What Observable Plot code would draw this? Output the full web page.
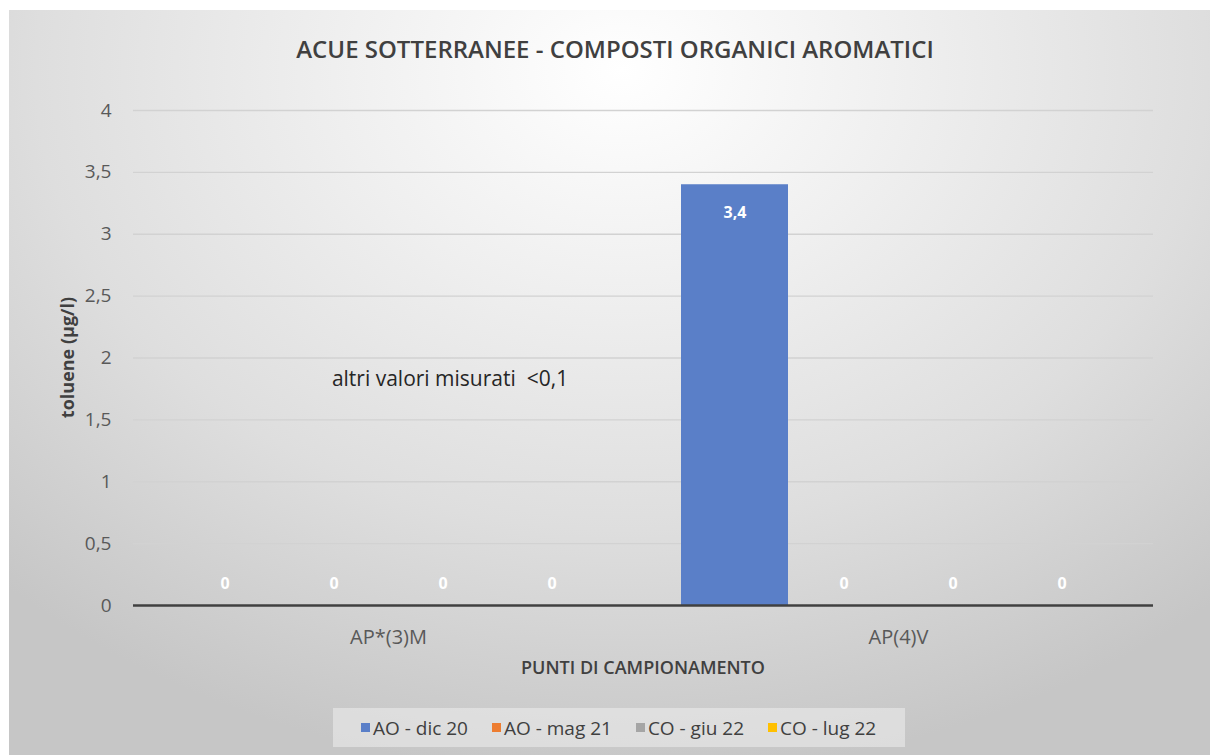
<!DOCTYPE html>
<html>
<head>
<meta charset="utf-8">
<script src="https://cdn.jsdelivr.net/npm/d3@7"></script>
<script src="https://cdn.jsdelivr.net/npm/@observablehq/plot@0.6"></script>
<style>
  html, body { margin: 0; padding: 0; background: #ffffff; width: 1210px; height: 755px; overflow: hidden; }
  #chart {
    position: absolute; left: 9px; top: 10px; width: 1201px; height: 745px;
    background: radial-gradient(ellipse 75% 95% at 51% 8%, #ffffff 0%, #f0f0f0 30%, #dedede 65%, #c6c6c6 100%);
  }
  #title {
    position: absolute; left: -9px; top: 22px; width: 1230px; text-align: center;
    font-family: "Open Sans", "Noto Sans", sans-serif; font-size: 24px; font-weight: 600; color: #404040;
  }
  #plot { position: absolute; left: -9px; top: 80px; }
  #legend {
    position: absolute; left: 324px; top: 698px; width: 572px; height: 39px;
    background: rgba(235,235,235,0.6); box-sizing: border-box; padding-left: 28px;
    display: flex; align-items: center; justify-content: flex-start; gap: 24px;
    font-family: "Open Sans", "Noto Sans", sans-serif; font-size: 19px; color: #404040;
  }
  .item { display: flex; align-items: center; }
  .sw { width: 9px; height: 9px; margin-right: 3px; }
</style>
</head>
<body>
<div id="chart">
  <div id="title"></div>
  <div id="plot"></div>
  <div id="legend"></div>
</div>
<script>
const title = "ACUE SOTTERRANEE - COMPOSTI ORGANICI AROMATICI";
const sites = ["AP*(3)M", "AP(4)V"];
const series = ["AO - dic 20", "AO - mag 21", "CO - giu 22", "CO - lug 22"];
const colors = ["#5a7fc8", "#ED7D31", "#A5A5A5", "#FFC000"];
const valuesAP3M = [0, 0, 0, 0];
const valuesAP4V = [3.4, 0, 0, 0];
const yTicks = [0, 0.5, 1, 1.5, 2, 2.5, 3, 3.5, 4];
const yLabel = "toluene (µg/l)";
const xLabel = "PUNTI DI CAMPIONAMENTO";
const note = "altri valori misurati  <0,1";
const noteSite = "AP*(3)M";
const noteSeries = "CO - giu 22";
const noteValue = 1.83;

const data = [];
series.forEach((s, i) => data.push({site: sites[0], series: s, value: valuesAP3M[i]}));
series.forEach((s, i) => data.push({site: sites[1], series: s, value: valuesAP4V[i]}));

const fmt = v => String(v).replace(".", ",");

document.getElementById("title").textContent = title;

const W = 1210, H = 610, ML = 133, MR = 57, MT = 20, MB = 95;

const chart = Plot.plot({
  width: W,
  height: H,
  marginLeft: ML,
  marginRight: MR,
  marginTop: MT,
  marginBottom: MB,
  style: {background: "transparent", fontFamily: "'Open Sans', 'Noto Sans', sans-serif", overflow: "visible"},
  fx: {domain: sites, padding: 0, label: null},
  x: {domain: series, paddingInner: 0.02, paddingOuter: 0.33, axis: null},
  y: {domain: [0, 4], label: null},
  color: {domain: series, range: colors},
  marks: [
    Plot.ruleY(yTicks.filter(d => d > 0), {stroke: "#d2d2d2", strokeWidth: 1.3}),
    Plot.barY(data, {fx: "site", x: "series", y: "value", fill: "series"}),
    Plot.ruleY([0], {stroke: "#404040", strokeWidth: 2.5}),
    Plot.text(data.filter(d => d.value > 0), {
      fx: "site", x: "series", y: "value",
      text: d => fmt(d.value), dy: 28,
      fill: "white", fontWeight: "bold", fontSize: 16
    }),
    Plot.text(data.filter(d => d.value <= 0), {
      fx: "site", x: "series", y: "value",
      text: d => fmt(d.value), dy: -22,
      fill: "white", fontWeight: "bold", fontSize: 16
    }),
    Plot.axisY({
      ticks: yTicks, tickSize: 0, tickPadding: 22, tickFormat: fmt,
      fontSize: 19, fill: "#595959", label: null
    }),
    Plot.axisFx({
      anchor: "bottom", tickSize: 0, tickPadding: 24, fontSize: 20,
      fill: "#595959", label: null
    }),
    Plot.text([note], {
      fx: [noteSite], x: [noteSeries], y: [noteValue], text: d => d,
      fontSize: 21, fill: "#262626", dx: 7
    })
  ]
});

document.getElementById("plot").appendChild(chart);

const svg = d3.select(chart);
svg.append("text")
  .attr("x", ML + (W - ML - MR) / 2)
  .attr("y", H - MB + 69)
  .attr("text-anchor", "middle")
  .attr("font-family", "'Open Sans', 'Noto Sans', sans-serif")
  .attr("font-weight", 600).attr("font-size", 18).attr("fill", "#404040")
  .text(xLabel);
svg.append("text")
  .attr("transform", `translate(74,${MT + (H - MT - MB) / 2}) rotate(-90)`)
  .attr("text-anchor", "middle")
  .attr("font-family", "'Open Sans', 'Noto Sans', sans-serif")
  .attr("font-weight", "bold").attr("font-size", 18).attr("fill", "#404040")
  .text(yLabel);

const legend = document.getElementById("legend");
series.forEach((s, i) => {
  const it = document.createElement("div"); it.className = "item";
  const sw = document.createElement("div"); sw.className = "sw"; sw.style.background = colors[i];
  const t = document.createElement("span"); t.textContent = s;
  it.appendChild(sw); it.appendChild(t); legend.appendChild(it);
});
</script>
</body>
</html>
